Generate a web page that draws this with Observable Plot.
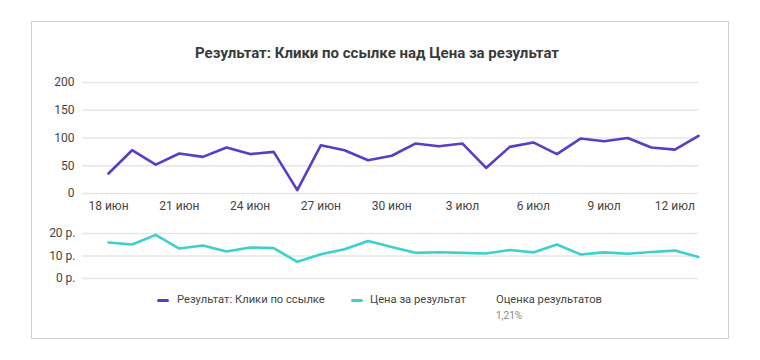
<!DOCTYPE html>
<html>
<head>
<meta charset="utf-8">
<script src="https://cdn.jsdelivr.net/npm/d3@7"></script>
<script src="https://cdn.jsdelivr.net/npm/@observablehq/plot@0.6"></script>
<style>
  html, body { margin: 0; padding: 0; background: #fff; }
  #root { position: relative; width: 760px; height: 360px; overflow: hidden; font-family: Roboto, "Noto Sans", sans-serif; }
  #card { position: absolute; left: 31px; top: 21px; width: 698px; height: 318px; box-sizing: border-box; border: 1px solid #cfcfcf; }
  .abs { position: absolute; white-space: nowrap; }
  #title { left: 28px; width: 698px; top: 44px; line-height: 18px; text-align: center; font-size: 15px; font-weight: 700; color: #3a3a3a; }
  .leg { font-size: 11.2px; line-height: 14px; color: #444; }
  .sw { position: absolute; height: 3px; border-radius: 2px; }
  .sub { font-size: 10px; line-height: 12px; color: #888; }
</style>
</head>
<body>
<div id="root">
  <div id="card"></div>
  <div id="title" class="abs"></div>
</div>
<script>
const chartTitle = "Результат: Клики по ссылке над Цена за результат";
const dates = [
  "2023-06-18","2023-06-19","2023-06-20","2023-06-21","2023-06-22","2023-06-23","2023-06-24",
  "2023-06-25","2023-06-26","2023-06-27","2023-06-28","2023-06-29","2023-06-30","2023-07-01",
  "2023-07-02","2023-07-03","2023-07-04","2023-07-05","2023-07-06","2023-07-07","2023-07-08",
  "2023-07-09","2023-07-10","2023-07-11","2023-07-12","2023-07-13"
];
const clicks = [36, 78, 52, 72, 66, 83, 71, 75, 6, 87, 78, 60, 68, 90, 85, 90, 46, 84, 92, 71, 99, 94, 100, 83, 79, 104];
const cost = [16.0, 15.1, 19.4, 13.3, 14.7, 12.0, 13.8, 13.5, 7.4, 10.8, 13.0, 16.7, 14.0, 11.4, 11.7, 11.4, 11.1, 12.7, 11.6, 15.1, 10.7, 11.6, 11.0, 11.8, 12.4, 9.6];
const tickDates = ["2023-06-18","2023-06-21","2023-06-24","2023-06-27","2023-06-30","2023-07-03","2023-07-06","2023-07-09","2023-07-12"];
const tickLabels = ["18 июн","21 июн","24 июн","27 июн","30 июн","3 июл","6 июл","9 июл","12 июл"];
const clickTicks = [0, 50, 100, 150, 200];
const costTicks = [0, 10, 20];
const currency = "р.";
const seriesNames = ["Результат: Клики по ссылке", "Цена за результат"];
const seriesColors = ["#5b3cc6", "#3ecfcf"];
const extraName = "Оценка результатов";
const extraValue = "1,21%";

const parse = s => new Date(s + "T00:00:00Z");
const data = dates.map((d, i) => ({date: parse(d), clicks: clicks[i], cost: cost[i]}));
const tickD = tickDates.map(parse);
const fmtX = d => { const i = tickD.findIndex(t => +t === +d); return i >= 0 ? tickLabels[i] : ""; };

const baseStyle = {fontFamily: "Roboto, 'Noto Sans', sans-serif", fontSize: "12px", color: "#444", background: "transparent", overflow: "visible"};

const topPlot = Plot.plot({
  width: 760, height: 150,
  marginLeft: 82, marginRight: 62, marginTop: 12, marginBottom: 27,
  style: baseStyle,
  x: {type: "utc", range: [108, 698], ticks: tickD, tickFormat: fmtX, tickSize: 0, tickPadding: 8, label: null},
  y: {domain: [0, 200], ticks: clickTicks, tickSize: 0, tickPadding: 8, label: null},
  marks: [
    Plot.ruleY(clickTicks, {stroke: "#e6e6e6", strokeWidth: 1.5}),
    Plot.line(data, {x: "date", y: "clicks", stroke: seriesColors[0], strokeWidth: 2.6, strokeLinejoin: "round"})
  ]
});

const botPlot = Plot.plot({
  width: 760, height: 65,
  marginLeft: 82, marginRight: 62, marginTop: 13, marginBottom: 7,
  style: baseStyle,
  x: {type: "utc", range: [108, 698], axis: null},
  y: {domain: [0, 20], ticks: costTicks, tickFormat: d => `${d} ${currency}`, tickSize: 0, tickPadding: 7, label: null},
  marks: [
    Plot.ruleY(costTicks, {stroke: "#e6e6e6", strokeWidth: 1.5}),
    Plot.line(data, {x: "date", y: "cost", stroke: seriesColors[1], strokeWidth: 2.6, strokeLinejoin: "round"})
  ]
});

const root = document.getElementById("root");
document.getElementById("title").textContent = chartTitle;
for (const [el, top] of [[topPlot, 70], [botPlot, 220]]) {
  el.style.position = "absolute";
  el.style.left = "0px";
  el.style.top = top + "px";
  root.appendChild(el);
}

function addDiv(cls, text, left, top, extra) {
  const d = document.createElement("div");
  d.className = "abs " + cls;
  d.textContent = text;
  d.style.left = left + "px";
  d.style.top = top + "px";
  if (extra) Object.assign(d.style, extra);
  root.appendChild(d);
  return d;
}
const legY = 300;
const swX = [157, 351];
const txX = [177, 370];
seriesNames.forEach((n, i) => {
  const s = document.createElement("div");
  s.className = "sw";
  s.style.left = swX[i] + "px";
  s.style.top = (legY - 1.5) + "px";
  s.style.width = "12px";
  s.style.background = seriesColors[i];
  root.appendChild(s);
  addDiv("leg", n, txX[i], legY - 7);
});
addDiv("leg", extraName, 496, legY - 7);
addDiv("sub", extraValue, 496, 310);
</script>
</body>
</html>
